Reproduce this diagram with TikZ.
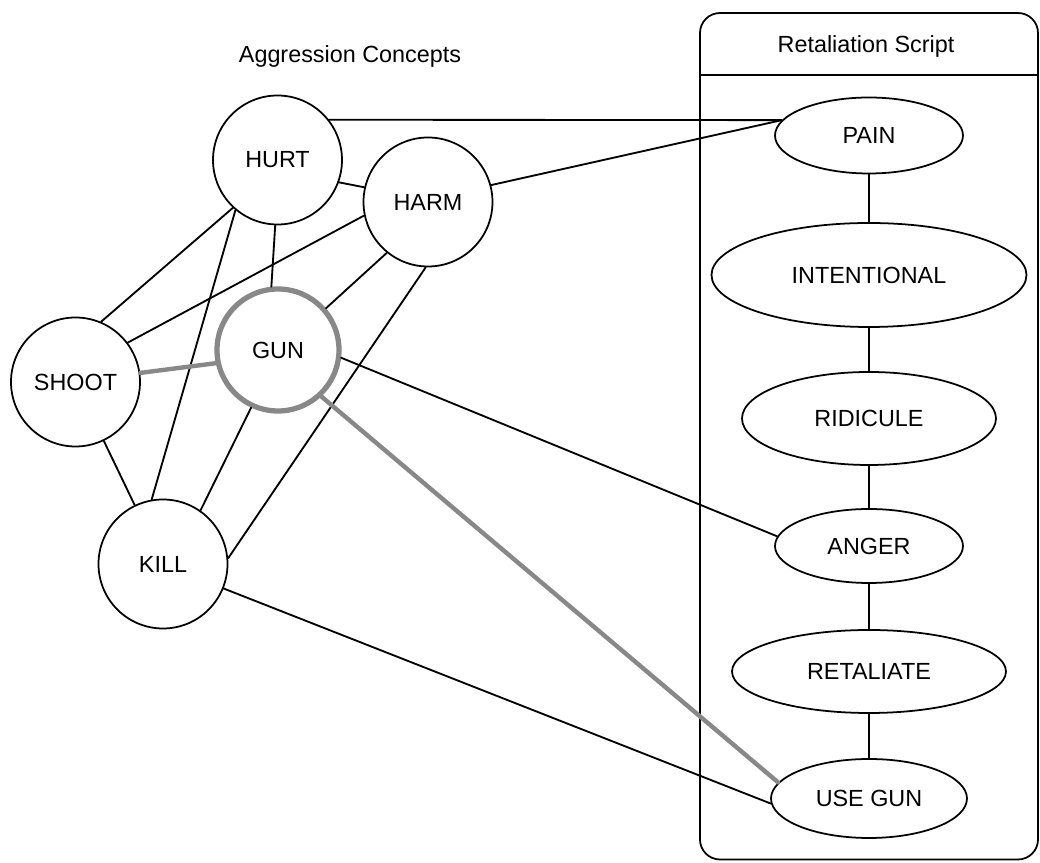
\documentclass[tikz,border=0pt]{standalone}
\usepackage{fontspec}
\setmainfont{Liberation Sans}
\usetikzlibrary{shapes.geometric}
\definecolor{primegray}{HTML}{888888}
\newcommand{\labelfont}{\fontsize{13.3}{15}\selectfont}

\begin{document}
\begin{tikzpicture}[x=1cm,y=1cm,line cap=round,line join=round,
    concept/.style={circle,draw,line width=1pt,fill=white,
      minimum size=2.58cm,inner sep=0pt,font=\labelfont},
    scriptnode/.style={ellipse,draw,line width=1pt,fill=white,
      inner sep=0pt,font=\labelfont},
    link/.style={line width=1.05pt},
    primed/.style={primegray,line width=2.5pt}]
  \useasboundingbox (0,0) rectangle (20.8,17.26);
  \def\sx{17.38}

  % Script frame and the two headings.
  \draw[line width=1pt,rounded corners=0.4cm] (14.0,0.07) rectangle (20.76,17.0);
  \draw[line width=1pt] (14.0,15.76) -- (20.76,15.76);
  \node[font=\labelfont] (scripttitle) at (17.32,16.33) {Retaliation Script};
  \node[font=\labelfont] (concepttitle) at (7.0,16.14) {Aggression Concepts};

  % Aggression concepts, GUN is the primed one.
  \node[concept] (hurt) at (5.55,14.06) {HURT};
  \node[concept] (harm) at (8.56,13.22) {HARM};
  \node[concept] (shoot) at (1.51,9.62) {SHOOT};
  \node[concept,draw=primegray,line width=3pt,minimum size=2.44cm]
    (gun) at (5.56,10.26) {GUN};
  \node[concept] (kill) at (3.26,5.98) {KILL};

  % Steps of the retaliation script.
  \node[scriptnode,minimum width=3.76cm,minimum height=1.52cm]
    (pain) at (\sx,14.55) {PAIN};
  \node[scriptnode,minimum width=6.3cm,minimum height=2.08cm]
    (intentional) at (\sx,11.76) {INTENTIONAL};
  \node[scriptnode,minimum width=5.08cm,minimum height=1.86cm]
    (ridicule) at (\sx,8.89) {RIDICULE};
  \node[scriptnode,minimum width=3.76cm,minimum height=1.48cm]
    (anger) at (\sx,6.34) {ANGER};
  \node[scriptnode,minimum width=5.48cm,minimum height=1.66cm]
    (retaliate) at (\sx,3.83) {RETALIATE};
  \node[scriptnode,minimum width=3.92cm,minimum height=1.58cm]
    (usegun) at (\sx,1.29) {USE GUN};

  \foreach \a/\b in {pain/intentional,intentional/ridicule,ridicule/anger,
                     anger/retaliate,retaliate/usegun}
    \draw[link] (\a) -- (\b);

  % Links among the concepts.
  \draw[link] (hurt.-20) -- (harm.167);
  \draw[link] (hurt.227) -- (shoot.67);
  \draw[link] (hurt.230) -- (kill.100);
  \draw[link] (hurt.268) -- (gun.96);
  \draw[link] (harm.192) -- (shoot.37);
  \draw[link] (harm.231) -- (gun.41);
  \draw[link] (harm.268) -- (kill.5);
  \draw[link] (gun.245) -- (kill.55);
  \draw[link] (shoot) -- (kill);

  % Links into the script.
  \draw[link] (hurt.38) -- (pain.170);
  \draw[link] (harm.15) -- (pain.170);
  \draw[link] (gun.-7) -- (anger.174);
  \draw[link] (kill.-22) -- (usegun.183);

  % Primed path.
  \draw[primed] (shoot.8) -- (gun.192);
  \draw[primed] (gun.-47) -- (usegun.170);
\end{tikzpicture}
\end{document}
